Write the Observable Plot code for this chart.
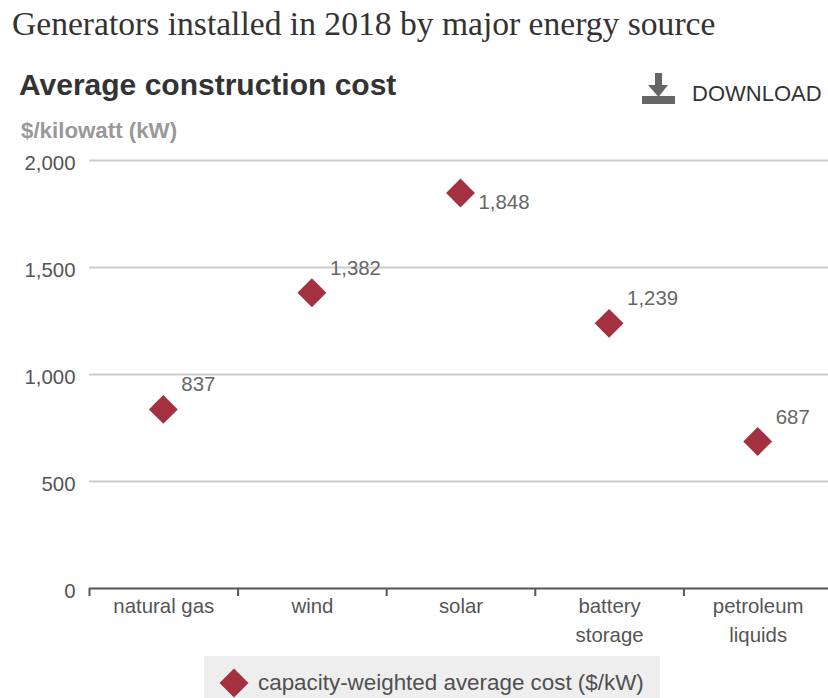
<!DOCTYPE html>
<html>
<head>
<meta charset="utf-8">
<script src="https://cdn.jsdelivr.net/npm/d3@7"></script>
<script src="https://cdn.jsdelivr.net/npm/@observablehq/plot@0.6"></script>
<style>
  html, body { margin: 0; padding: 0; background: #fff; overflow: hidden; }
  body { width: 828px; height: 698px; font-family: "Liberation Sans", Arial, sans-serif; }
  .head { position: relative; height: 140px; }
  .head > * { position: absolute; white-space: nowrap; line-height: 1; }
  .title { left: 12px; top: 5px; font: 33.6px "Liberation Serif", serif; color: #333; }
  .sub { left: 19px; top: 70px; font-weight: bold; font-size: 30px; color: #333; }
  .unit { left: 21px; top: 120px; font-weight: bold; font-size: 22.3px; color: #999; }
  .dl-icon { left: 642px; top: 73px; }
  .dl-text { left: 692px; top: 83px; font-size: 22px; color: #333; }
  #chart svg { display: block; }
  .foot { position: relative; height: 48px; }
  .legend { position: absolute; left: 204px; top: 6px; width: 456px; height: 42px; background: #eee; color: #505050; font-size: 22.4px; }
  .legend svg { position: absolute; left: 15px; top: 12px; }
  .legend span { position: absolute; left: 54px; top: 16px; line-height: 1; white-space: nowrap; }
</style>
</head>
<body>
<div class="head">
  <div class="title">Generators installed in 2018 by major energy source</div>
  <div class="sub">Average construction cost</div>
  <div class="unit">$/kilowatt (kW)</div>
  <svg class="dl-icon" width="33" height="32" viewBox="0 0 33 32">
    <path fill="#666" d="M13 0h7v12h6L16.500 24 6 12h7z"/>
    <rect fill="#666" x="0" y="23" width="33" height="8"/>
  </svg>
  <div class="dl-text">DOWNLOAD</div>
</div>
<div id="chart"></div>
<div class="foot">
  <div class="legend">
    <svg width="30" height="30" viewBox="-15 -15 30 30"><path fill="#a33140" d="M0-14.500L14.500 0L0 14.500L-14.500 0z"/></svg>
    <span>capacity-weighted average cost ($/kW)</span>
  </div>
</div>
<script>
// Generator types, in axis order, with line breaks for the two-line labels
const sources = ["natural gas", "wind", "solar", "battery\nstorage", "petroleum\nliquids"];
const costs = [837, 1382, 1848, 1239, 687];
const yTicks = [0, 500, 1000, 1500, 2000];
const gridValues = [500, 1000, 1500, 2000];

const rows = sources.map((source, i) => ({source, cost: costs[i], slot: i + 0.5}));
const slotEdges = d3.range(sources.length + 1);
const slotCentres = sources.map((_, i) => i + 0.5);
const fmt = d3.format(",");
const ink = "#555";
const textSize = 20.4;

const chart = Plot.plot({
  width: 828,
  height: 510,
  marginTop: 20,
  marginBottom: 62,
  marginLeft: 89,
  marginRight: 0,
  style: {fontFamily: "'Liberation Sans', Arial, sans-serif", background: "transparent", overflow: "hidden"},
  x: {type: "linear", domain: [0, sources.length], range: [89, 832]},
  y: {domain: [0, 2000], range: [448, 20]},
  marks: [
    Plot.ruleY(gridValues, {stroke: "#ccc", strokeWidth: 2}),
    // Value axis: labels only, the rules above carry the grid
    Plot.axisY({
      ticks: yTicks, tickSize: 0, tickPadding: 14, tickFormat: fmt, label: null,
      fontSize: textSize, fill: ink, dy: 3
    }),
    // Category axis: ticks mark the slot edges, labels sit at the centres
    Plot.axisX({ticks: slotEdges, tickSize: 8, strokeWidth: 2, stroke: ink, tickFormat: () => "", label: null}),
    Plot.axisX({
      ticks: slotCentres, tickSize: 0, tickPadding: 5, label: null,
      tickFormat: v => sources[v - 0.5], fontSize: textSize, fill: ink, lineHeight: 1.38,
      textOverflow: null, lineWidth: 20
    }),
    Plot.ruleY([0], {stroke: ink, strokeWidth: 2}),
    Plot.dot(rows, {x: "slot", y: "cost", dx: -0.5, symbol: "diamond2", r: 13, fill: "#a33140", stroke: "none"}),
    // Most labels sit up and to the right of their marker; solar drops below
    Plot.text(rows.filter(d => d.cost !== 1848), {
      x: "slot", y: "cost", text: d => fmt(d.cost), textAnchor: "start",
      dx: 17.5, dy: -24.5, fontSize: textSize, fill: "#666"
    }),
    Plot.text(rows.filter(d => d.cost === 1848), {
      x: "slot", y: "cost", text: d => fmt(d.cost), textAnchor: "start",
      dx: 17.5, dy: 9, fontSize: textSize, fill: "#666"
    })
  ]
});
document.getElementById("chart").append(chart);
</script>
</body>
</html>
